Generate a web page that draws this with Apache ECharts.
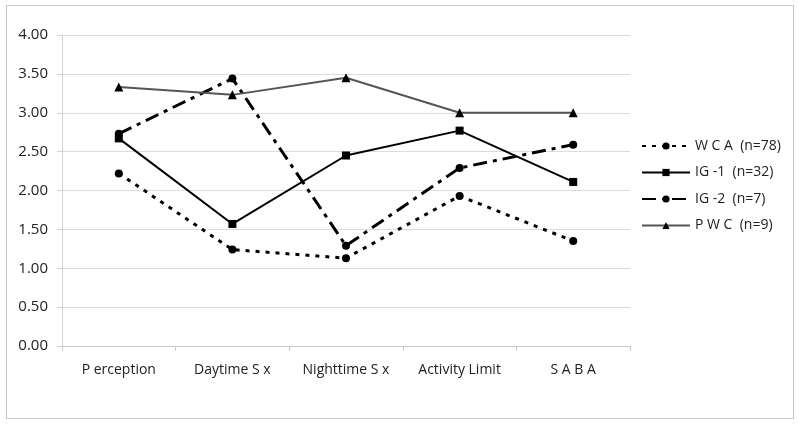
<!DOCTYPE html>
<html>
<head>
<meta charset="utf-8">
<script src="https://cdn.jsdelivr.net/npm/echarts@6/dist/echarts.min.js"></script>
<style>
  html, body { margin: 0; padding: 0; background: #fff; }
  #chart { width: 800px; height: 425px; }
</style>
</head>
<body>
<div id="chart"></div>
<script>
const categories = ['P erception', 'Daytime S x', 'Nighttime S x', 'Activity Limit', 'S A B A']
const wca = [2.22, 1.24, 1.13, 1.93, 1.35]
const ig1 = [2.67, 1.57, 2.45, 2.77, 2.11]
const ig2 = [2.73, 3.44, 1.29, 2.29, 2.59]
const pwc = [3.33, 3.23, 3.45, 3.00, 3.00]
const names = ['W C A  (n=78)', 'IG -1  (n=32)', 'IG -2  (n=7)', 'P W C  (n=9)']

const chart = echarts.init(document.getElementById('chart'))

const option = {
  animation: false,
  backgroundColor: '#fff',
  textStyle: { fontFamily: 'Open Sans' },
  graphic: [
    {
      type: 'rect',
      shape: { x: 6.5, y: 5.5, width: 787, height: 413 },
      style: { fill: 'none', stroke: '#c8c8c8', lineWidth: 1 },
      silent: true,
    },
  ],
  legend: {
    orient: 'vertical',
    left: 636,
    top: 134,
    itemGap: 12.5,
    itemWidth: 48,
    itemHeight: 9,
    textStyle: { fontSize: 14, color: '#222' },
    data: names,
  },
  grid: { left: 62, right: 170, top: 35, bottom: 79 },
  xAxis: {
    type: 'category',
    data: categories,
    axisLine: { lineStyle: { color: '#c8c8c8' } },
    axisTick: { show: true, length: 5, lineStyle: { color: '#c8c8c8' } },
    axisLabel: { fontSize: 14, color: '#222', margin: 17 },
  },
  yAxis: {
    type: 'value',
    min: 0,
    max: 4,
    interval: 0.5,
    axisLine: { show: true, lineStyle: { color: '#d0d0d0' } },
    axisTick: { show: true, length: 5, lineStyle: { color: '#d0d0d0' } },
    axisLabel: { fontSize: 15, color: '#222', margin: 14, formatter: v => v.toFixed(2) },
    splitLine: { lineStyle: { color: '#dcdcdc' } },
  },
  series: [
    {
      name: names[0],
      type: 'line',
      data: wca,
      symbol: 'circle',
      symbolSize: 8,
      itemStyle: { color: '#000' },
      lineStyle: { color: '#000', width: 3, type: [4, 6] },
    },
    {
      name: names[1],
      type: 'line',
      data: ig1,
      symbol: 'rect',
      symbolSize: 8,
      itemStyle: { color: '#000' },
      lineStyle: { color: '#000', width: 2 },
    },
    {
      name: names[2],
      type: 'line',
      data: ig2,
      symbol: 'circle',
      symbolSize: 8,
      itemStyle: { color: '#000' },
      lineStyle: { color: '#000', width: 3, type: [14, 6, 4, 6] },
    },
    {
      name: names[3],
      type: 'line',
      data: pwc,
      symbol: 'triangle',
      symbolSize: 9,
      itemStyle: { color: '#000' },
      lineStyle: { color: '#555', width: 2 },
    },
  ],
}

chart.setOption(option)
</script>
</body>
</html>
